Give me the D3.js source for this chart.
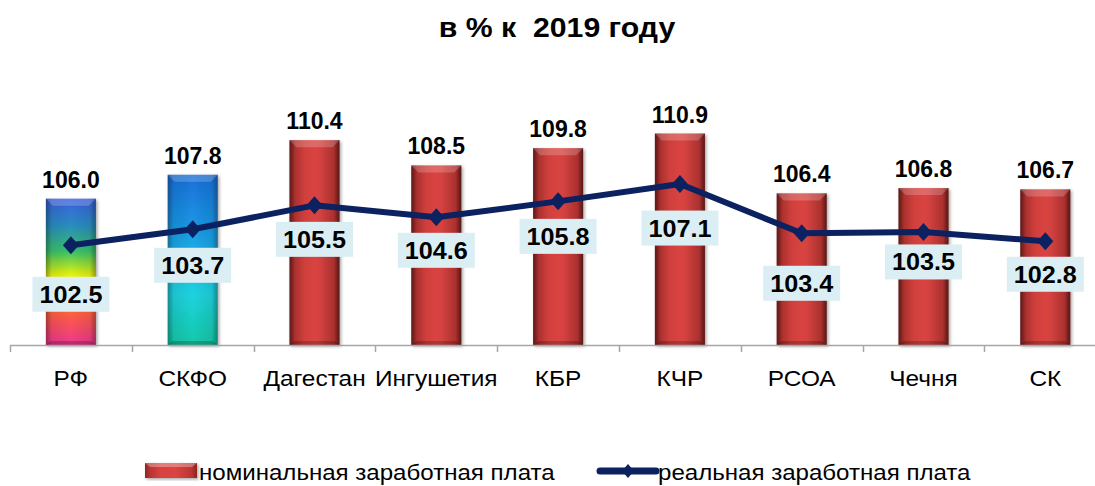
<!DOCTYPE html>
<html><head><meta charset="utf-8">
<script src="https://cdn.jsdelivr.net/npm/d3@7"></script>
<style>
html,body{margin:0;padding:0;background:#fff;}
svg{display:block;font-family:"Liberation Sans",Arial,sans-serif;}
text{white-space:pre;}
</style></head>
<body>
<svg id="chart" width="1095" height="486"></svg>
<script>
const title = "в % к  2019 году";
const categories = ["РФ","СКФО","Дагестан","Ингушетия","КБР","КЧР","РСОА","Чечня","СК"];
const nominal = [106.0,107.8,110.4,108.5,109.8,110.9,106.4,106.8,106.7];
const real = [102.5,103.7,105.5,104.6,105.8,107.1,103.4,103.5,102.8];
const seriesNames = ["номинальная заработная плата","реальная заработная плата"];

// layout (not data)
const labelOffsets = [49,36,34,33,35,44,50,30,33];
const W=1095,H=486;
const svg=d3.select("#chart");
const x=d3.scaleBand().domain(categories).range([10,10+9*121.8]).padding(0);
const y=d3.scaleLinear().domain([95,115]).range([345,345-20*13.3]);
const bw=50;
const lineColor="#0b2160";

const defs=svg.append("defs");
function hgrad(id,stops){const g=defs.append("linearGradient").attr("id",id).attr("x1",0).attr("x2",1).attr("y1",0).attr("y2",0);
 stops.forEach(s=>g.append("stop").attr("offset",s[0]).attr("stop-color",s[1]).attr("stop-opacity",s[2]==null?1:s[2]));}
function vgrad(id,stops){const g=defs.append("linearGradient").attr("id",id).attr("x1",0).attr("x2",0).attr("y1",0).attr("y2",1);
 stops.forEach(s=>g.append("stop").attr("offset",s[0]).attr("stop-color",s[1]).attr("stop-opacity",s[2]==null?1:s[2]));}
hgrad("redG",[[0,"#8f2624"],[0.1,"#b93432"],[0.3,"#d8423f"],[0.6,"#d94442"],[0.9,"#b93432"],[1,"#8a2422"]]);
vgrad("rfG",[[0,"#3a5fe0"],[0.18,"#2a8cc0"],[0.36,"#38c26a"],[0.52,"#e6f20c"],[0.6,"#ffff00"],[0.78,"#ff6040"],[1,"#ee3590"]]);
vgrad("skG",[[0,"#1a6fd8"],[0.35,"#1a9ee6"],[0.7,"#1fd3e0"],[1,"#12c9a6"]]);
hgrad("edgeG",[[0,"#000",0.35],[0.12,"#000",0.08],[0.5,"#000",0],[0.88,"#000",0.08],[1,"#000",0.35]]);
const f=defs.append("filter").attr("id","sh").attr("x","-20%").attr("y","-10%").attr("width","140%").attr("height","130%");
f.append("feDropShadow").attr("dx",1.5).attr("dy",1.5).attr("stdDeviation",1.5).attr("flood-color","#000").attr("flood-opacity",0.35);

function stext(g,tx,ty,str,size,sx,opts={}){
 return g.append("text").attr("transform",`translate(${tx},${ty}) scale(${sx},1)`)
  .attr("text-anchor",opts.anchor||"middle").attr("font-size",size)
  .attr("font-weight",opts.bold?"bold":"normal").attr("fill","#000").text(str);
}

// title
stext(svg,557,37,title,27,1.12,{bold:true});

// bars
const fills=i=>i===0?"url(#rfG)":i===1?"url(#skG)":"url(#redG)";
const bars=svg.append("g");
nominal.forEach((v,i)=>{
 const cx=x(categories[i])+x.bandwidth()/2, x0=cx-bw/2, yt=y(v), yb=y(95);
 const g=bars.append("g").attr("filter","url(#sh)");
 g.append("rect").attr("x",x0).attr("y",yt).attr("width",bw).attr("height",yb-yt).attr("fill",fills(i));
 g.append("rect").attr("x",x0).attr("y",yt).attr("width",bw).attr("height",yb-yt).attr("fill","url(#edgeG)");
 g.append("polygon").attr("points",`${x0},${yt} ${x0+bw},${yt} ${x0+bw-7},${yt+7} ${x0+7},${yt+7}`)
  .attr("fill","#fff").attr("fill-opacity",0.2);
 g.append("polygon").attr("points",`${x0},${yb} ${x0+bw},${yb} ${x0+bw-5},${yb-4} ${x0+5},${yb-4}`)
  .attr("fill","#000").attr("fill-opacity",0.2);
});

// axis
const ax=svg.append("g");
ax.append("line").attr("x1",10).attr("x2",W).attr("y1",345.5).attr("y2",345.5).attr("stroke","#a6a6a6").attr("stroke-width",1.5);
d3.range(categories.length+1).forEach(k=>{
 const tx=Math.round(10+k*x.step())+0.5;
 ax.append("line").attr("x1",tx).attr("x2",tx).attr("y1",345).attr("y2",352).attr("stroke","#a6a6a6").attr("stroke-width",1.5);
});
const xa=svg.append("g").attr("transform","translate(0,345)").call(d3.axisBottom(x).tickSize(0).tickPadding(0));
xa.select(".domain").remove();
xa.selectAll("text").attr("font-size",22).attr("font-family","Liberation Sans, Arial, sans-serif").attr("fill","#000")
 .attr("dy",null).attr("y",null).attr("transform","translate(0,41) scale(1.11,1)");

// nominal labels
const nl=svg.append("g");
nominal.forEach((v,i)=>stext(nl,x(categories[i])+x.bandwidth()/2,y(v)-11,v.toFixed(1),23,1.0,{bold:true}));

// real line
const pts=real.map((v,i)=>[x(categories[i])+x.bandwidth()/2,y(v)]);
svg.append("path").attr("d",d3.line()(pts)).attr("fill","none").attr("stroke",lineColor).attr("stroke-width",6).attr("stroke-linejoin","round");
svg.append("g").selectAll("path").data(pts).join("path")
 .attr("transform",d=>`translate(${d[0]},${d[1]})`).attr("d","M0,-9 L8,0 L0,9 L-8,0Z").attr("fill",lineColor);

// real labels
const lg=svg.append("g");
real.forEach((v,i)=>{
 const [px,py]=pts[i]; const cy=py+labelOffsets[i];
 lg.append("rect").attr("x",px-38.5).attr("y",cy-17.5).attr("width",77).attr("height",35).attr("fill","#dbeef4");
 stext(lg,px,cy+8.5,v.toFixed(1),24,1.05,{bold:true});
});

// legend
const leg=svg.append("g");
const sg=leg.append("g").attr("filter","url(#sh)");
sg.append("rect").attr("x",145).attr("y",463).attr("width",52).attr("height",15).attr("fill","url(#redG)");
sg.append("polygon").attr("points","145,463 197,463 192,467 150,467").attr("fill","#fff").attr("fill-opacity",0.3);
stext(leg,199,480,seriesNames[0],22,1.095,{anchor:"start"});
leg.append("line").attr("x1",600).attr("x2",656).attr("y1",471).attr("y2",471).attr("stroke",lineColor).attr("stroke-width",7).attr("stroke-linecap","round");
leg.append("path").attr("transform","translate(628,471)").attr("d","M0,-7 L6,0 L0,7 L-6,0Z").attr("fill",lineColor);
stext(leg,658,480,seriesNames[1],22,1.095,{anchor:"start"});
</script>
</body></html>
